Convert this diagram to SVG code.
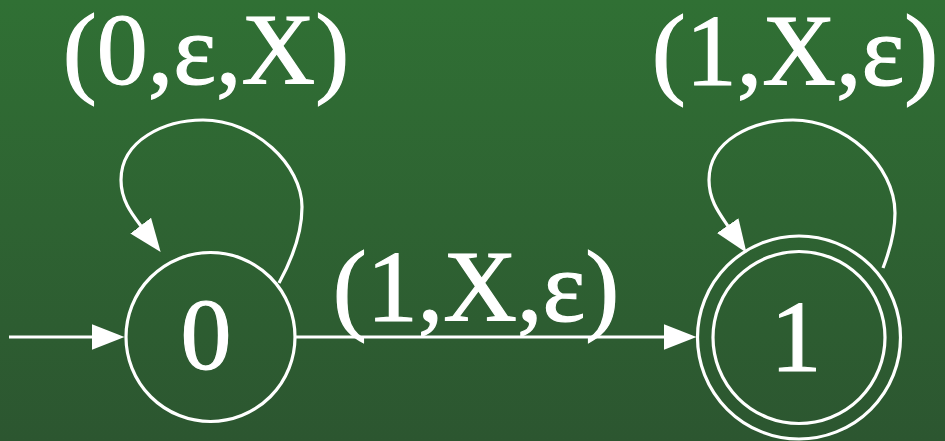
<svg xmlns="http://www.w3.org/2000/svg" width="945" height="441" viewBox="0 0 945 441">
  <defs>
    <linearGradient id="bg" x1="0" y1="0" x2="0" y2="1">
      <stop offset="0" stop-color="#307034"/>
      <stop offset="1" stop-color="#2c5630"/>
    </linearGradient>
    <marker id="arrow" markerUnits="userSpaceOnUse" markerWidth="34" markerHeight="26" viewBox="0 0 34 26" refX="0.5" refY="13" orient="auto">
      <path d="M0,0 L33,13 L0,26 Z" fill="#ffffff"/>
    </marker>
  </defs>
  <style>
    .node { fill: none; stroke: #ffffff; stroke-width: 3.2; }
    .edge { fill: none; stroke: #ffffff; stroke-width: 3.2; marker-end: url(#arrow); }
    .lbl { font-family: "Liberation Serif", "Times New Roman", serif; font-size: 102px; fill: #ffffff; stroke: #ffffff; stroke-width: 1.2; text-anchor: middle; }
  </style>
  <rect x="0" y="0" width="945" height="441" fill="url(#bg)"/>

  <g id="connectors">
    <path id="start" class="edge" d="M9,337 L92,337"/>
    <path id="e01" class="edge" d="M296,337 L664,337"/>
    <path id="loop0" class="edge" d="M279,283 C290,263 302,235 302,207 C302,165 255,120 203,120 C165,120 121,140 121,180 C121,200 131.5,213.5 141,226"/>
    <path id="loop1" class="edge" d="M883,268 C890,250 895,232 895,213 C895,165 845,120 793,120 C753,120 709,140 709,180 C709,200 719,213 728,226"/>
    <text class="lbl" x="206" y="84">(0,ε,X)</text>
    <text class="lbl" x="476" y="321">(1,X,ε)</text>
    <text class="lbl" x="795" y="85">(1,X,ε)</text>
  </g>

  <g id="node0">
    <circle class="node" cx="210.5" cy="337" r="84.5"/>
    <text class="lbl" x="206" y="369">0</text>
  </g>

  <g id="node1">
    <circle class="node" cx="799" cy="337.5" r="101.5"/>
    <circle class="node" cx="799" cy="337.5" r="86"/>
    <text class="lbl" x="796" y="370.5">1</text>
  </g>
</svg>
